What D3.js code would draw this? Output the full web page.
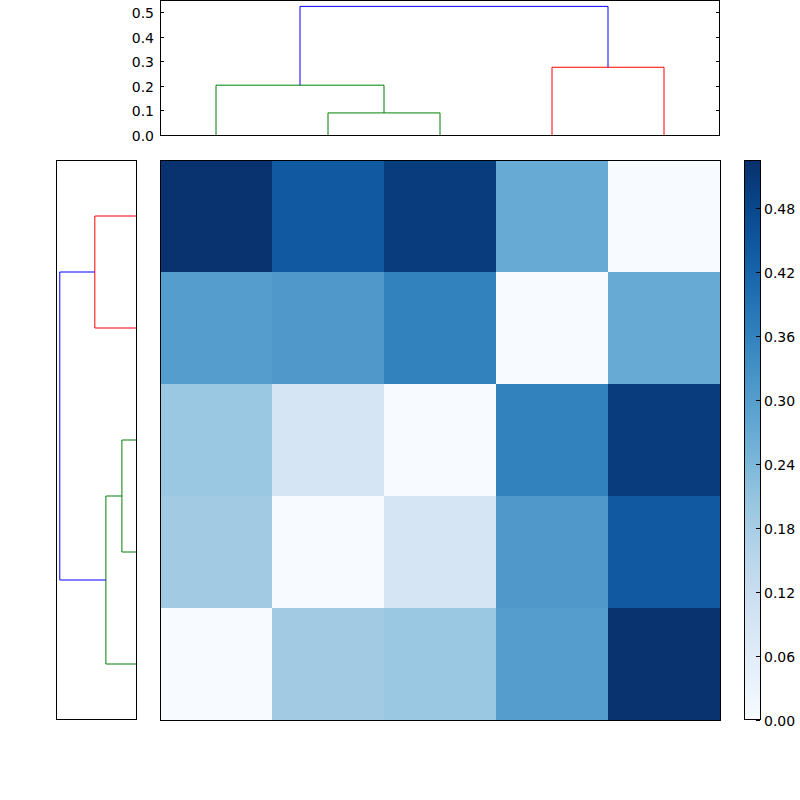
<!DOCTYPE html>
<html><head><meta charset="utf-8">
<script src="https://cdn.jsdelivr.net/npm/d3@7"></script>
<style>body{margin:0;background:#fff}text{font-family:"DejaVu Sans",sans-serif;font-size:14px}</style>
</head><body><svg id="c" width="800" height="800"></svg>
<script>
// distance matrix (rows top to bottom)
var matrix = [
  [0.52, 0.44, 0.50, 0.27, 0.00],
  [0.30, 0.31, 0.36, 0.00, 0.27],
  [0.20, 0.09, 0.00, 0.36, 0.50],
  [0.19, 0.00, 0.09, 0.31, 0.44],
  [0.00, 0.19, 0.20, 0.30, 0.52]
];
// top dendrogram (leaf units 5,15,...)
var topIcoord = [[15,15,25,25],[5,5,20,20],[35,35,45,45],[12.5,12.5,40,40]];
var topDcoord = [[0,0.09,0.09,0],[0,0.203,0.203,0.09],[0,0.276,0.276,0],[0.203,0.524,0.524,0.276]];
var topColors = ['green','green','red','blue'];
// left dendrogram
var leftIcoord = [[5,5,15,15],[25,25,35,35],[30,30,45,45],[10,10,37.5,37.5]];
var leftDcoord = [[0,0.283,0.283,0],[0,0.097,0.097,0],[0.097,0.207,0.207,0],[0.283,0.524,0.524,0.207]];
var leftColors = ['red','green','green','blue'];
var topTicks = [0,0.1,0.2,0.3,0.4,0.5];
var cbTicks = [0,0.06,0.12,0.18,0.24,0.30,0.36,0.42,0.48];

var svg = d3.select('#c');
var hm = {x0:160, x1:720, y0:160, y1:720};
var vmax = 0.525;
var color = d3.scaleSequential(d3.interpolateBlues).domain([0, vmax]);

// heatmap
var xs = d3.scaleBand().domain(d3.range(5)).range([hm.x0, hm.x1]);
var ys = d3.scaleBand().domain(d3.range(5)).range([hm.y0, hm.y1]);
matrix.forEach(function(row, i) {
  row.forEach(function(v, j) {
    svg.append('rect').attr('x', xs(j)).attr('y', ys(i))
      .attr('width', xs.bandwidth()+0.5).attr('height', ys.bandwidth()+0.5)
      .attr('fill', color(v));
  });
});
svg.append('rect').attr('x',hm.x0+0.5).attr('y',hm.y0+0.5).attr('width',560).attr('height',560)
  .attr('fill','none').attr('stroke','#000');

// top dendrogram
var tx = d3.scaleLinear().domain([0,50]).range([160,720]);
var ty = d3.scaleLinear().domain([0,0.55]).range([135,0]);
var line = d3.line();
topIcoord.forEach(function(ic, k) {
  svg.append('path').attr('d', line(ic.map(function(u,m){return [tx(u), ty(topDcoord[k][m])];})))
    .attr('fill','none').attr('stroke', topColors[k]);
});
svg.append('rect').attr('x',160.5).attr('y',0.5).attr('width',559).attr('height',135)
  .attr('fill','none').attr('stroke','#000');
topTicks.forEach(function(t) {
  var y = Math.round(ty(t))+0.5;
  svg.append('line').attr('x1',160).attr('x2',164).attr('y1',y).attr('y2',y).attr('stroke','#000');
  svg.append('line').attr('x1',716).attr('x2',720).attr('y1',y).attr('y2',y).attr('stroke','#000');
  svg.append('text').attr('x',154).attr('y',y+5).attr('text-anchor','end').text(t.toFixed(1));
});

// left dendrogram
var lx = d3.scaleLinear().domain([0,0.55]).range([136,56]);
var ly = d3.scaleLinear().domain([0,50]).range([160,720]);
leftIcoord.forEach(function(ic, k) {
  svg.append('path').attr('d', line(ic.map(function(u,m){return [lx(leftDcoord[k][m]), ly(u)];})))
    .attr('fill','none').attr('stroke', leftColors[k]);
});
svg.append('rect').attr('x',56.5).attr('y',160.5).attr('width',80).attr('height',559)
  .attr('fill','none').attr('stroke','#000');

// colorbar
var cb = {x:744, w:16};
var cy = d3.scaleLinear().domain([0,vmax]).range([720,160]);
d3.range(0, 560).forEach(function(p) {
  svg.append('rect').attr('x',cb.x).attr('y',160+p).attr('width',cb.w).attr('height',1.2)
    .attr('fill', color(cy.invert(160+p+0.5)));
});
svg.append('rect').attr('x',cb.x+0.5).attr('y',160.5).attr('width',cb.w).attr('height',559)
  .attr('fill','none').attr('stroke','#000');
cbTicks.forEach(function(t) {
  var y = Math.round(cy(t))+0.5;
  svg.append('line').attr('x1',cb.x+cb.w-4).attr('x2',cb.x+cb.w).attr('y1',y).attr('y2',y).attr('stroke','#000');
  svg.append('text').attr('x',764).attr('y',y+5).text(t.toFixed(2));
});
</script></body></html>
